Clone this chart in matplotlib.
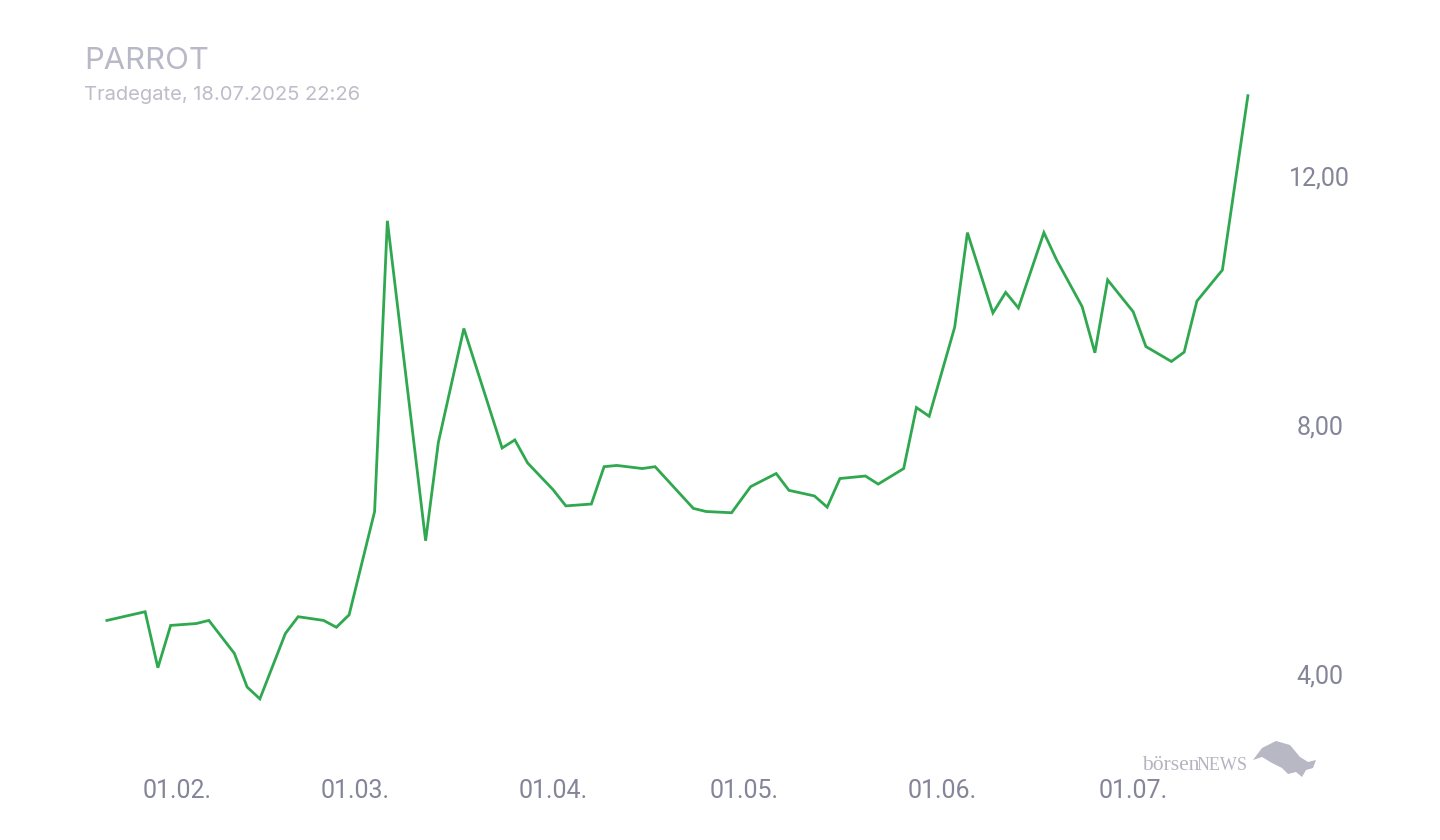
import matplotlib
matplotlib.use("Agg")
import matplotlib.pyplot as plt
import matplotlib.dates as mdates
import pandas as pd
from matplotlib.patches import Polygon

# ---- data ----
dates = [
    "2025-01-21", "2025-01-27", "2025-01-29", "2025-01-31", "2025-02-04", "2025-02-06",
    "2025-02-10", "2025-02-12", "2025-02-14", "2025-02-18", "2025-02-20", "2025-02-24",
    "2025-02-26", "2025-02-28", "2025-03-04", "2025-03-06", "2025-03-12", "2025-03-14",
    "2025-03-18", "2025-03-24", "2025-03-26", "2025-03-28", "2025-04-01", "2025-04-03",
    "2025-04-07", "2025-04-09", "2025-04-11", "2025-04-15", "2025-04-17", "2025-04-23",
    "2025-04-25", "2025-04-29", "2025-05-02", "2025-05-06", "2025-05-08", "2025-05-12",
    "2025-05-14", "2025-05-16", "2025-05-20", "2025-05-22", "2025-05-26", "2025-05-28",
    "2025-05-30", "2025-06-03", "2025-06-05", "2025-06-09", "2025-06-11", "2025-06-13",
    "2025-06-17", "2025-06-19", "2025-06-23", "2025-06-25", "2025-06-27", "2025-07-01",
    "2025-07-03", "2025-07-07", "2025-07-09", "2025-07-11", "2025-07-15", "2025-07-19",
]
prices = [
    4.86, 5.00, 4.10, 4.78, 4.81, 4.86,
    4.33, 3.79, 3.60, 4.65, 4.92, 4.86,
    4.75, 4.95, 6.61, 11.28, 6.14, 7.72,
    9.55, 7.63, 7.76, 7.39, 6.96, 6.70,
    6.73, 7.33, 7.35, 7.30, 7.33, 6.66,
    6.61, 6.59, 7.01, 7.22, 6.95, 6.86,
    6.68, 7.14, 7.18, 7.05, 7.30, 8.28,
    8.14, 9.57, 11.09, 9.80, 10.13, 9.88,
    11.09, 10.65, 9.90, 9.16, 10.33, 9.82,
    9.26, 9.02, 9.17, 9.99, 10.49, 13.29,
]
y_ticks = [4, 8, 12]
y_tick_labels = ["4,00", "8,00", "12,00"]
x_ticks = ["2025-02-01", "2025-03-01", "2025-04-01", "2025-05-01", "2025-06-01", "2025-07-01"]
x_tick_labels = ["01.02.", "01.03.", "01.04.", "01.05.", "01.06.", "01.07."]
title = "PARROT"
subtitle = "Tradegate, 18.07.2025 22:26"

# ---- figure ----
W, H = 1440, 840
fig = plt.figure(figsize=(W / 100, H / 100), dpi=100)
ax_l, ax_r, ax_t, ax_b = 90, 1260, 80, 760
ax = fig.add_axes([ax_l / W, 1 - ax_b / H, (ax_r - ax_l) / W, (ax_b - ax_t) / H])

x = pd.to_datetime(dates)
ax.plot(x, prices, color="#2fa84f", lw=2.0, solid_joinstyle="miter")

base = pd.Timestamp("2025-02-01")
ax.set_xlim(base + pd.Timedelta(days=-13.65), base + pd.Timedelta(days=169.9))
ax.set_ylim(2.618, 13.542)

tick_color = "#85859a"
ax.set_xticks(pd.to_datetime(x_ticks))
ax.set_xticklabels(x_tick_labels, fontfamily="Roboto", fontsize=18, color=tick_color)
ax.set_yticks(y_ticks)
ax.set_yticklabels(y_tick_labels, fontfamily="Roboto", fontsize=18, color=tick_color)
ax.yaxis.tick_right()
ax.tick_params(axis="both", length=0)
ax.tick_params(axis="x", pad=14)
ax.tick_params(axis="y", pad=43)
for lb in ax.get_yticklabels():
    lb.set_horizontalalignment("center")
for s in ax.spines.values():
    s.set_visible(False)
ax.grid(False)

fig.text(84 / W, 1 - 69 / H, title, fontfamily="Inter", fontsize=22.3,
         color="#b9b8c7", va="baseline", ha="left")
fig.text(84 / W, 1 - 100 / H, subtitle, fontfamily="Inter", fontsize=14.5,
         color="#bdbcc9", va="baseline", ha="left")

# watermark
fig.text(1142 / W, 1 - 770 / H, "börsen", fontfamily="Liberation Serif", fontsize=15.5,
         color="#b4b3c0", va="baseline", ha="left")
fig.text(1197 / W, 1 - 770 / H, "NEWS", fontfamily="Liberation Serif", fontsize=13,
         color="#b4b3c0", va="baseline", ha="left")
bull = [(1253, 760), (1262, 748), (1276, 741), (1290, 745), (1300, 757), (1308, 762),
        (1316, 760), (1313, 768), (1306, 770), (1302, 777), (1296, 772), (1288, 774),
        (1282, 768), (1272, 763), (1262, 757)]
fig.patches.append(Polygon([(px / W, 1 - py / H) for px, py in bull], closed=True,
                           transform=fig.transFigure, facecolor="#b8b7c4",
                           edgecolor="none", figure=fig))

fig.savefig("out.png", dpi=100, facecolor="white")
